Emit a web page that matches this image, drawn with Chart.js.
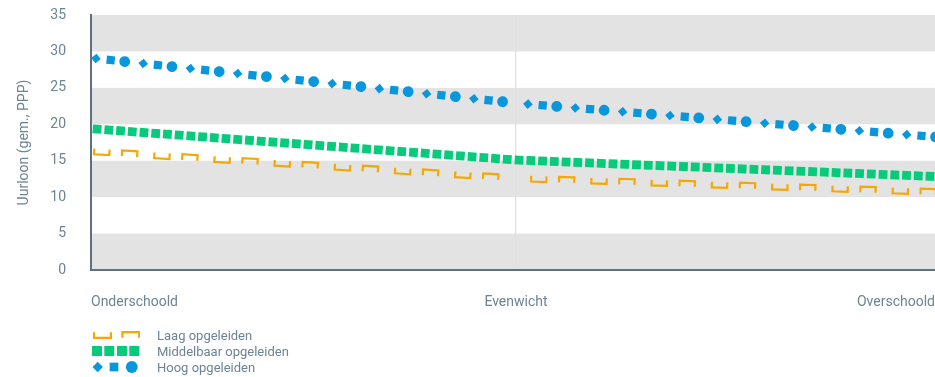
<!DOCTYPE html>
<html>
<head>
<meta charset="utf-8">
<script src="https://cdn.jsdelivr.net/npm/chart.js@4/dist/chart.umd.min.js"></script>
<style>
    html, body { margin: 0; padding: 0; background: #fff; }
    #wrap { position: relative; width: 935px; height: 377px; overflow: hidden; }
    #legend { position: absolute; left: 90px; top: 327px; font-family: Roboto, sans-serif; font-size: 13px; color: #6c8494; }
    .legend-row { display: flex; align-items: center; height: 16px; }
    .legend-row canvas { display: block; margin-right: 17px; }
</style>
</head>
<body>
<div id="wrap">
    <canvas id="chart" width="935" height="320"></canvas>
    <div id="legend"></div>
</div>
<script>
const xLabels = ['Onderschoold', 'Evenwicht', 'Overschoold'];
const seriesNames = ['Laag opgeleiden', 'Middelbaar opgeleiden', 'Hoog opgeleiden'];
const laag = [16.3, 12.6, 10.7];
const middelbaar = [19.4, 15.1, 12.8];
const hoog = [29.1, 22.9, 18.2];
const yMax = 35;
const yStep = 5;

const textColor = '#6c8494';
const axisColor = '#5c7282';
const bandColor = '#e3e3e3';
const font = { family: 'Roboto, sans-serif', size: 14 };

// how each series is drawn along its line: marks repeated every `period` px,
// `start` shifts the pattern at the start of each segment
const seriesStyle = [
    {
        color: '#f6a800', period: 60.3, start: [0, 12],
        marks: [{ type: 'cup', at: 10.8, size: 15.3 }, { type: 'cap', at: 38.7, size: 15.3 }]
    },
    {
        color: '#05cb7a', period: 11.75, start: [0, -3],
        marks: [{ type: 'square', at: 6.1, size: 8.8 }]
    },
    {
        color: '#0896dc', period: 47.5, start: [0, 7],
        marks: [{ type: 'diamond', at: 5, size: 4.8 }, { type: 'square', at: 19.8, size: 8.2 }, { type: 'circle', at: 33.9, size: 5.4 }]
    }
];

// legend swatches (x positions inside a 50px wide canvas)
const legendMarks = [
    [{ type: 'cup', at: 11.5, size: 16.8 }, { type: 'cap', at: 39.8, size: 16.8 }],
    [{ type: 'square', at: 6, size: 10 }, { type: 'square', at: 18.3, size: 10 }, { type: 'square', at: 31, size: 10 }, { type: 'square', at: 43.3, size: 10 }],
    [{ type: 'diamond', at: 6.7, size: 5.2 }, { type: 'square', at: 23, size: 8.7 }, { type: 'circle', at: 40.8, size: 5.9 }]
];

function drawMark(c, type, x, y, size, color) {
    c.fillStyle = color;
    c.strokeStyle = color;
    c.beginPath();
    if (type === 'diamond') {
        c.moveTo(x, y - size);
        c.lineTo(x + size, y);
        c.lineTo(x, y + size);
        c.lineTo(x - size, y);
        c.closePath();
        c.fill();
    } else if (type === 'square') {
        c.rect(x - size / 2, y - size / 2, size, size);
        c.fill();
    } else if (type === 'circle') {
        c.arc(x, y, size, 0, Math.PI * 2);
        c.fill();
    } else {
        // bracket: cup opens upwards, cap opens downwards
        const h = 2.8;
        const edge = type === 'cup' ? h : -h;
        c.lineWidth = 2.2;
        c.lineCap = 'butt';
        c.lineJoin = 'miter';
        c.moveTo(x - size / 2, y - edge);
        c.lineTo(x - size / 2, y + edge);
        c.lineTo(x + size / 2, y + edge);
        c.lineTo(x + size / 2, y - edge);
        c.stroke();
    }
}

const bands = {
    id: 'bands',
    beforeDraw(chart) {
        const { ctx, chartArea: a, scales: { y } } = chart;
        ctx.save();
        ctx.fillStyle = bandColor;
        for (let v = 0; v < yMax; v += yStep * 2) {
            const top = y.getPixelForValue(v + yStep);
            const bottom = y.getPixelForValue(v);
            ctx.fillRect(a.left, top, a.right - a.left, bottom - top);
        }
        ctx.restore();
    }
};

const patternLines = {
    id: 'patternLines',
    afterDatasetsDraw(chart) {
        const { ctx, chartArea: a } = chart;
        ctx.save();
        ctx.beginPath();
        ctx.rect(a.left, a.top, a.right - a.left, a.bottom - a.top);
        ctx.clip();
        chart.data.datasets.forEach((ds, di) => {
            const pts = chart.getDatasetMeta(di).data;
            const st = seriesStyle[di];
            for (let i = 0; i < pts.length - 1; i++) {
                const p0 = pts[i], p1 = pts[i + 1];
                const dx = p1.x - p0.x, dy = p1.y - p0.y;
                const len = Math.hypot(dx, dy);
                ctx.save();
                ctx.translate(p0.x, p0.y);
                ctx.rotate(Math.atan2(dy, dx));
                for (let s = st.start[i]; s < len; s += st.period) {
                    st.marks.forEach(m => {
                        const d = s + m.at;
                        if (d > 0 && d < len) drawMark(ctx, m.type, d, 0, m.size, st.color);
                    });
                }
                ctx.restore();
            }
        });
        ctx.restore();
    }
};

const toPoints = arr => arr.map((v, i) => ({ x: i, y: v }));
const xVisibleMax = 1.986; // right end of the plot is cut off by the page edge

new Chart(document.getElementById('chart'), {
    type: 'line',
    data: {
        datasets: [laag, middelbaar, hoog].map((values, i) => ({
            label: seriesNames[i],
            data: toPoints(values),
            borderWidth: 0,
            borderColor: 'rgba(0,0,0,0)',
            pointRadius: 0,
            showLine: false
        }))
    },
    options: {
        responsive: false,
        animation: false,
        layout: { padding: { top: 15, left: 10, right: 0, bottom: 0 } },
        plugins: {
            legend: { display: false },
            tooltip: { enabled: false }
        },
        scales: {
            x: {
                type: 'linear',
                min: 0,
                max: xVisibleMax,
                afterBuildTicks: scale => {
                    scale.ticks = [0, 1, scale.max].map(v => ({ value: v }));
                },
                afterFit: scale => {
                    scale.height = 50;
                    scale.paddingLeft = 0;
                    scale.paddingRight = 0;
                },
                ticks: {
                    callback: (value, index) => xLabels[index],
                    align: 'inner',
                    maxRotation: 0,
                    autoSkip: false,
                    padding: 24,
                    color: textColor,
                    font: font
                },
                grid: {
                    drawTicks: false,
                    color: c => c.index === 1 ? '#e0e0e0' : 'rgba(0,0,0,0)',
                    lineWidth: 1.3
                },
                border: { color: axisColor, width: 2 }
            },
            y: {
                min: 0,
                max: yMax,
                afterFit: scale => {
                    scale.width = 81;
                    scale.paddingTop = 8;
                    scale.paddingBottom = 8;
                },
                ticks: {
                    stepSize: yStep,
                    padding: 25,
                    color: textColor,
                    font: font
                },
                grid: { display: false, drawTicks: false },
                border: { color: axisColor, width: 2 },
                title: {
                    display: true,
                    text: 'Uurloon (gem., PPP)',
                    color: textColor,
                    font: font,
                    padding: { top: 6, bottom: 4 }
                }
            }
        }
    },
    plugins: [bands, patternLines]
});

// legend
const legend = document.getElementById('legend');
legend.innerHTML = seriesNames.map((name, i) => `
    <div class="legend-row">
        <canvas id="swatch${i}" width="50" height="16"></canvas>
        <span>${name}</span>
    </div>
`).join('');

legendMarks.forEach((marks, i) => {
    const c = document.getElementById('swatch' + i).getContext('2d');
    marks.forEach(m => drawMark(c, m.type, m.at + 1, 8, m.size, seriesStyle[i].color));
});
</script>
</body>
</html>
